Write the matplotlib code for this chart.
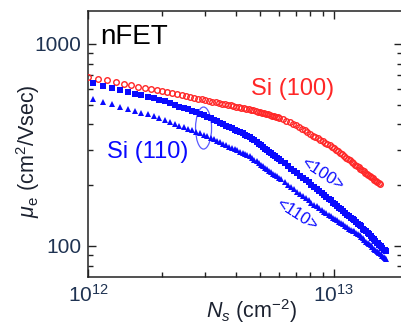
import matplotlib
matplotlib.use("Agg")
import matplotlib.pyplot as plt
from matplotlib.patches import Ellipse
import numpy as np

plt.rcParams['font.family'] = ['Liberation Sans', 'DejaVu Sans']
plt.rcParams['mathtext.fontset'] = 'custom'
plt.rcParams['mathtext.rm'] = 'Liberation Sans'
plt.rcParams['mathtext.it'] = 'Liberation Sans:italic'

# sheet density Ns in units of 1e12 cm^-2
ns_100 = [1.0, 1.1, 1.2, 1.3, 1.4, 1.5, 1.6, 1.7, 1.8, 1.9,
          2.0, 2.1, 2.2, 2.3, 2.4, 2.5, 2.6, 2.7, 2.8, 2.9,
          3.0, 3.1, 3.2, 3.3, 3.4, 3.5, 3.6, 3.7, 3.8, 3.9,
          4.0, 4.1, 4.2, 4.3, 4.4, 4.5, 4.6, 4.7, 4.8, 4.9,
          5.0, 5.1, 5.2, 5.3, 5.4, 5.5, 5.6, 5.7, 5.8, 5.9, 6.0,
          6.2, 6.4, 6.6, 6.8, 7.0, 7.2, 7.4, 7.6, 7.8, 8.0,
          8.2, 8.4, 8.6, 8.8, 9.0, 9.2, 9.4, 9.6, 9.8, 10.0,
          10.2, 10.4, 10.6, 10.8, 11.0, 11.2, 11.4, 11.6, 11.8, 12.0,
          12.2, 12.4, 12.6, 12.8, 13.0, 13.2, 13.4, 13.6, 13.8, 14.0,
          14.2, 14.4, 14.6, 14.8, 15.0, 15.2, 15.4]
mu_100 = [689, 673, 660, 647, 636, 625, 615, 607, 598, 591,
          583, 576, 569, 563, 557, 551, 546, 541, 536, 531,
          527, 522, 518, 514, 511, 507, 503, 500, 496, 493,
          490, 487, 484, 481, 478, 475, 472, 469, 466, 463,
          460, 457, 454, 451, 448, 445, 442, 439, 436, 433, 430,
          423, 416, 409, 402, 395, 388, 380, 373, 366, 358,
          352, 347, 341, 336, 331, 325, 320, 315, 310, 305,
          299, 294, 289, 284, 279, 274, 269, 265, 261, 256,
          252, 249, 245, 241, 238, 234, 231, 228, 225, 222,
          219, 216, 213, 210, 207, 205, 202]

ns_110 = [1.05, 1.15, 1.25, 1.35, 1.45, 1.55, 1.65, 1.75, 1.85, 1.95,
          2.05, 2.15, 2.25, 2.35, 2.45, 2.55, 2.65, 2.75, 2.85, 2.95,
          3.05, 3.15, 3.25, 3.35, 3.45, 3.55, 3.65, 3.75, 3.85, 3.95,
          4.05, 4.15, 4.25, 4.35, 4.45, 4.55, 4.65, 4.75, 4.85, 4.95,
          5.05, 5.15, 5.25, 5.35, 5.45, 5.55, 5.65, 5.75, 5.85, 5.95,
          6.1, 6.3, 6.5, 6.7, 6.9, 7.1, 7.3, 7.5, 7.7, 7.9,
          8.1, 8.3, 8.5, 8.7, 8.9, 9.1, 9.3, 9.5, 9.7, 9.9,
          10.1, 10.3, 10.5, 10.7, 10.9, 11.1, 11.3, 11.5, 11.7, 11.9,
          12.1, 12.3, 12.5, 12.7, 12.9, 13.1, 13.3, 13.5, 13.7, 13.9,
          14.1, 14.3, 14.5, 14.7, 14.9, 15.1, 15.3, 15.5, 15.7, 15.9,
          16.1, 16.3]
# Si(110), <100> direction (squares)
mu_110_dir100 = [638, 621, 605, 592, 579, 568, 557, 548, 538, 530,
                 519, 509, 499, 490, 482, 474, 466, 459, 452, 445,
                 437, 429, 421, 414, 407, 400, 394, 388, 382, 376,
                 371, 366, 361, 356, 351, 347, 340, 333, 327, 321,
                 315, 309, 303, 298, 293, 288, 283, 279, 274, 270,
                 264, 256, 248, 241, 235, 229, 223, 217, 212, 207,
                 201, 196, 192, 187, 183, 179, 175, 171, 168, 164,
                 161, 158, 155, 152, 149, 146, 143, 141, 138, 136,
                 134, 131, 129, 127, 125, 122, 120, 118, 116, 114,
                 112, 110, 108, 106, 104, 103, 101, 100, 98, 96,
                 95, 94]
# Si(110), <110> direction (triangles)
mu_110_dir110 = [532, 516, 502, 490, 478, 467, 457, 449, 440, 432,
                 421, 412, 402, 394, 387, 379, 373, 367, 362, 356,
                 350, 343, 337, 331, 326, 320, 315, 310, 306, 301,
                 297, 293, 289, 285, 281, 278, 272, 267, 262, 258,
                 253, 248, 244, 240, 236, 232, 228, 225, 221, 218,
                 214, 207, 201, 196, 191, 186, 181, 176, 172, 168,
                 164, 160, 157, 154, 151, 148, 146, 143, 141, 138,
                 136, 134, 132, 130, 128, 126, 124, 122, 120, 119,
                 118, 116, 114, 113, 111, 109, 107, 105, 104, 102,
                 101, 99, 97, 96, 94, 93, 92, 91, 89, 88,
                 87, 86]

RED = '#ff2626'
BLUE = '#0a0aff'
TICKCOL = '#1f3352'

fig = plt.figure(figsize=(4.01, 3.29), dpi=100)
ax = fig.add_axes([88/401, 52/329, 314/401, 266/329])

ax.plot(np.array(ns_100)*1e12, mu_100, 'o', mfc='none', mec=RED, ms=4.0, mew=1.0, zorder=3)
ax.plot(np.array(ns_110)*1e12, mu_110_dir100, 's', color=BLUE, ms=4.4, mew=0, zorder=3)
ax.plot(np.array(ns_110)*1e12, mu_110_dir110, '^', color=BLUE, ms=4.6, mew=0, zorder=3)

ax.set_xscale('log')
ax.set_yscale('log')
ax.set_xlim(1e12, 1.89e13)
ax.set_ylim(70.2, 1456)

ax.set_xticks([1e12, 1e13])
ax.set_xticklabels([r'$10^{12}$', r'$10^{13}$'])
ax.set_yticks([100, 1000])
ax.set_yticklabels(['100', '1000'])
ax.tick_params(which='both', direction='in', top=True, right=True, width=1.0,
               colors='#222222', labelcolor=TICKCOL, labelsize=15)
ax.tick_params(which='major', length=6, pad=5)
ax.tick_params(which='minor', length=3.5)
ax.yaxis.set_minor_formatter(matplotlib.ticker.NullFormatter())
ax.xaxis.set_minor_formatter(matplotlib.ticker.NullFormatter())
for s in ax.spines.values():
    s.set_linewidth(1.1)
    s.set_color('#222222')

ax.text(0.04, 0.95, 'nFET', transform=ax.transAxes, fontsize=20, ha='left', va='top', color='black')
ax.text(0.65, 0.707, 'Si (100)', transform=ax.transAxes, fontsize=17, ha='center', va='center', color=RED)
ax.text(0.191, 0.47, 'Si (110)', transform=ax.transAxes, fontsize=17, ha='center', va='center', color=BLUE)
ax.text(0.745, 0.385, '<100>', transform=ax.transAxes, fontsize=12, ha='center', va='center',
        color=BLUE, rotation=-33)
ax.text(0.665, 0.235, '<110>', transform=ax.transAxes, fontsize=12, ha='center', va='center',
        color=BLUE, rotation=-33)
ax.add_patch(Ellipse((0.368, 0.56), 0.051, 0.158, transform=ax.transAxes, fill=False,
                     edgecolor='#5a5aff', linewidth=0.9))

fig.text(28/401, 1 - 151/329, r'$\mu_{\mathrm{e}}$ (cm$^{\mathrm{2}}$/Vsec)', rotation=90,
         ha='center', va='center', fontsize=15.5, color='#1c2230')
fig.text(252/401, 1 - 311/329, r'$N_s$ (cm$^{\mathrm{-2}}$)', ha='center', va='center',
         fontsize=15.5, color='#1c2230')

fig.savefig('out.png', dpi=100)
